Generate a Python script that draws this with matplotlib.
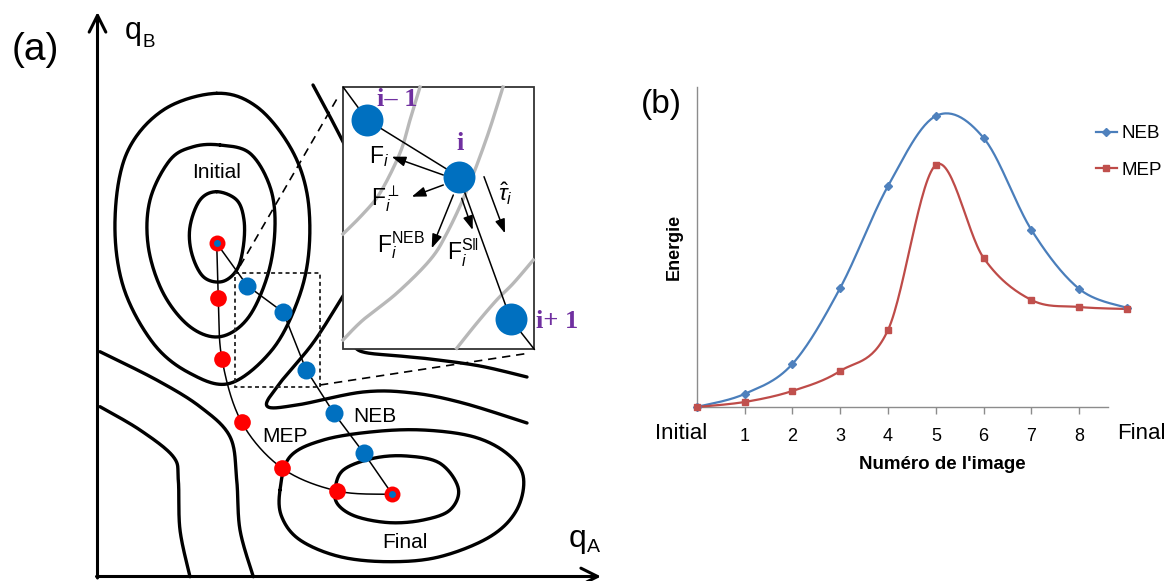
import numpy as np
import matplotlib
matplotlib.use('Agg')
import matplotlib.pyplot as plt
import matplotlib.transforms as mtransforms
from matplotlib.patches import Rectangle
from matplotlib.lines import Line2D

plt.rcParams['font.family'] = ['Liberation Sans', 'DejaVu Sans']
plt.rcParams['mathtext.fontset'] = 'custom'
plt.rcParams['mathtext.rm'] = 'Liberation Sans'
plt.rcParams['mathtext.it'] = 'Liberation Sans:italic'
plt.rcParams['mathtext.bf'] = 'Liberation Sans:bold'
NARROW = ['Liberation Sans Narrow', 'Liberation Sans', 'DejaVu Sans']

# ---- (b) energie le long du chemin ----
images = ['Initial', '1', '2', '3', '4', '5', '6', '7', '8', 'Final']
neb_energy = [0, 13, 43, 119, 221, 291, 269, 177, 118, 99]
mep_energy = [0, 5, 16, 36, 77, 242, 149, 107, 100, 98]

# ---- (a) schema, coordonnees en pixels de l'image ----
mep_nodes = [(216.7, 243.3), (218.3, 298.3), (222.0, 359.3), (241.7, 422.3),
             (282.3, 468.3), (337.3, 491.0), (392.3, 494.3)]
neb_nodes = [(216.7, 243.3), (247.3, 285.7), (283.3, 312.3), (306.0, 369.5),
             (334.0, 413.3), (364.0, 453.3), (392.3, 494.3)]

init_inner = [(216.7, 191.7), (236.7, 200), (244, 220), (243.3, 246.7), (236.7, 270),
              (221.7, 281.7), (203.3, 276.7), (191.7, 253.3), (190, 226.7), (200, 200)]
init_mid = [(220, 145), (250, 153.3), (270, 186.7), (275, 226.7), (268, 274),
            (248, 318), (220, 336.7), (190, 326.7), (163.3, 293.3), (148.3, 246.7),
            (150, 200), (170, 160), (193.3, 146.7)]
init_outer = [(216.7, 93.3), (256.7, 106.7), (290, 146.7), (307, 193.3), (309, 250),
              (298, 300), (272, 350), (230, 383.3), (190, 373.3), (153.3, 343.3),
              (123.3, 286.7), (115, 220), (126.7, 153.3), (163.3, 110)]
final_inner = [(335, 490), (343.3, 470), (373.3, 458.3), (406.7, 456), (440, 463.3),
               (458.3, 488.3), (450, 510), (423.3, 520), (390, 522.7), (356.7, 516.7),
               (338.3, 505)]
final_outer = [(280, 490), (290, 456.7), (323.3, 440), (373.3, 431.7), (423.3, 430),
               (473.3, 436.7), (506.7, 453.3), (523.3, 476.7), (516.7, 510),
               (490, 536.7), (440, 556.7), (390, 561.7), (340, 556.7), (300, 540),
               (281.7, 516.7)]
saddle_top = [(313, 85), (342, 140), (372, 205), (362, 265), (343, 296), (313, 343),
              (280, 383), (267, 406), (297, 405), (363, 392), (413, 393), (463, 403),
              (527, 423)]
under_inset = [(350, 335), (360, 351), (400, 356), (430, 359), (480, 366), (527, 377)]
left_1 = [(100, 351.7), (156.7, 380), (200, 406.7), (230, 436.7), (236.7, 480),
          (240, 530), (253.3, 576.7)]
left_2 = [(100, 406.7), (140, 430), (173.3, 456.7), (178.3, 480), (180, 530),
          (190, 576.7)]

inset_box = (343.3, 87.3, 534.3, 349.3)
inset_nodes = [(367.3, 120), (459, 176.7), (510.7, 319.3)]
gray_a = [(343, 234), (362, 215), (380, 193), (400, 153), (410, 120), (420, 87)]
gray_b = [(503, 87), (487, 137), (467, 190), (447, 233), (430, 260), (397, 293),
          (363, 320), (343, 340)]
gray_c = [(533.3, 260), (513.3, 283.3), (496.7, 300), (476.7, 323.3), (456.7, 348.3)]
force_arrows = [((443.3, 175), (391.7, 156.7)), ((443.3, 185), (411.7, 196.7)),
                ((453.3, 195), (431.7, 248.3)), ((461.7, 198.3), (472.7, 230)),
                ((484, 176.7), (505, 233.3))]


def catmull(pts, closed=False, n=30):
    P = np.asarray(pts, float)
    P = np.vstack([P[-1], P, P[0], P[1]]) if closed else np.vstack([P[0], P, P[-1]])
    t = np.linspace(0, 1, n, endpoint=False)[:, None]
    out = []
    for i in range(1, len(P) - 2):
        p0, p1, p2, p3 = P[i - 1], P[i], P[i + 1], P[i + 2]
        out.append(0.5 * (2 * p1 + (p2 - p0) * t + (2 * p0 - 5 * p1 + 4 * p2 - p3) * t ** 2
                          + (3 * p1 - p0 - 3 * p2 + p3) * t ** 3))
    out.append(P[-2][None])
    return np.vstack(out)


W, H = 1174, 581
fig = plt.figure(figsize=(W / 100, H / 100), dpi=100, facecolor='white')
px = fig.add_axes([0, 0, 1, 1])
px.set_xlim(0, W); px.set_ylim(H, 0); px.axis('off')

# contours
for pts, closed in [(init_inner, True), (init_mid, True), (init_outer, True),
                    (final_inner, True), (final_outer, True), (saddle_top, False),
                    (under_inset, False), (left_1, False), (left_2, False)]:
    xy = catmull(pts, closed)
    px.plot(xy[:, 0], xy[:, 1], color='black', lw=2.4, solid_capstyle='round', zorder=2)

# axes qA / qB
arrow = dict(arrowstyle='->,head_length=0.6,head_width=0.3', lw=2.2, color='black',
             mutation_scale=20, shrinkA=0, shrinkB=0)
px.annotate('', xy=(97.5, 12), xytext=(97.5, 578), arrowprops=arrow, zorder=3)
px.annotate('', xy=(601, 576.5), xytext=(96.5, 576.5), arrowprops=arrow, zorder=3)
px.text(125, 38.5, 'q', fontsize=22, va='baseline')
px.text(143, 46.7, 'B', fontsize=13.5, va='baseline')
px.text(569, 546.7, 'q', fontsize=23, va='baseline')
px.text(587, 552, 'A', fontsize=14, va='baseline')
px.text(35, 50, '(a)', fontsize=28, ha='center', va='center')

# cadre en pointilles + lignes vers l'encart
px.add_patch(Rectangle((235, 273), 85, 114, fill=False, lw=1.3, ls=(0, (2.2, 1.8)),
                       ec='#222222', zorder=4))
px.plot([240, 338], [266, 97], color='black', lw=1.2, ls=(0, (5, 3.5)), zorder=4)
px.plot([320, 530], [385, 353], color='black', lw=1.2, ls=(0, (5, 3.5)), zorder=4)

# chemins MEP et NEB
xy = catmull(mep_nodes)
px.plot(xy[:, 0], xy[:, 1], color='black', lw=1.1, zorder=5)
px.plot(*zip(*neb_nodes), color='black', lw=1.1, zorder=5)
px.plot(*zip(*mep_nodes[1:-1]), ls='none', marker='o', ms=12, color='#ff0000', mec='none', zorder=6)
px.plot(*zip(*neb_nodes[1:-1]), ls='none', marker='o', ms=13, color='#0070c0', mec='none', zorder=6)
for cx, cy in (mep_nodes[0], mep_nodes[-1]):
    px.plot(cx, cy, marker='o', ms=11.5, color='#ff0000', mec='none', zorder=6)
    px.plot(cx, cy, marker='o', ms=5, color='#0070c0', mec='none', zorder=7)
px.text(217, 172, 'Initial', fontsize=15, ha='center', va='center')
px.text(285, 437, 'MEP', fontsize=15, ha='center', va='center')
px.text(375, 417, 'NEB', fontsize=15, ha='center', va='center')
px.text(405, 542, 'Final', fontsize=15, ha='center', va='center')

# encart
x0, y0, x1, y1 = inset_box
box = Rectangle((x0, y0), x1 - x0, y1 - y0, fc='white', ec='#333333', lw=1.3, zorder=8)
px.add_patch(box)
for g in (gray_a, gray_b, gray_c):
    xy = catmull(g)
    px.plot(xy[:, 0], xy[:, 1], color='#b8b8b8', lw=2.4, zorder=9, clip_path=box)
chain = [(x0, y0)] + inset_nodes + [(x1, y1)]
px.plot(*zip(*chain), color='black', lw=1.1, zorder=10, clip_path=box)
px.plot(*zip(*inset_nodes), ls='none', marker='o', ms=23, color='#0070c0', mec='none', zorder=12)
for start, end in force_arrows:
    px.annotate('', xy=end, xytext=start, zorder=11,
                arrowprops=dict(arrowstyle='-|>,head_length=0.7,head_width=0.25', lw=1.1,
                                color='black', mutation_scale=12, shrinkA=0, shrinkB=0))
px.text(379, 157, r'$\mathrm{F}_i$', fontsize=16.5, ha='center', va='center', zorder=13)
px.text(386, 199, r'$\mathrm{F}_i^{\perp}$', fontsize=16.5, ha='center', va='center', zorder=13)
px.text(401, 245, r'$\mathrm{F}_i^{\mathrm{NEB}}$', fontsize=16.5, ha='center', va='center', zorder=13)
px.text(463, 253, r'$\mathrm{F}_i^{\mathrm{S}\Vert}$', fontsize=16.5, ha='center', va='center', zorder=13)
px.text(505, 194, r'$\hat{\tau}_i$', fontsize=16.5, ha='center', va='center', zorder=13)
purple = dict(fontsize=19, color='#7030a0', fontweight='bold', va='center',
              family=['Liberation Serif', 'DejaVu Serif'], zorder=13)
px.text(377, 99, 'i\u2013 1', ha='left', **purple)
px.text(460, 144, 'i', ha='center', **purple)
px.text(536, 321, 'i+ 1', ha='left', **purple)

# ---- (b) ----
ax = fig.add_axes([696.7 / W, (H - 407) / H, (1108 - 696.7) / W, (407 - 86.7) / H])
ax.set_facecolor('none')
ax.set_xlim(0, 8.6)
ax.set_ylim(0, 320.3)
x = np.arange(len(images))
series = [(neb_energy, '#4a7ebb', '#4f81bd', 'D', 4.5, 'NEB'),
          (mep_energy, '#be4b48', '#c0504d', 's', 5, 'MEP')]
handles = []
for vals, lc, mc, mk, ms, label in series:
    xy = catmull(list(zip(x, vals)))
    ax.plot(xy[:, 0], xy[:, 1], color=lc, lw=1.6, clip_on=False, zorder=3)
    ax.plot(x, vals, ls='none', marker=mk, ms=ms, color=mc, mec=mc, clip_on=False, zorder=4)
    handles.append(Line2D([0], [0], color=lc, lw=1.6, marker=mk, ms=ms, mfc=mc, mec=mc, label=label))
for s in ('top', 'right'):
    ax.spines[s].set_visible(False)
for s in ('left', 'bottom'):
    ax.spines[s].set_color('#8c8c8c')
    ax.spines[s].set_linewidth(1)
ax.set_yticks([])
ax.set_xticks(x[1:9])
ax.set_xticklabels(images[1:9], family=NARROW, fontsize=13)
ax.tick_params(axis='x', length=5, width=1, color='#8c8c8c', pad=10)
tr = mtransforms.blended_transform_factory(ax.transData, ax.transAxes)
ax.text(-0.33, -0.084, images[0], transform=tr, ha='center', va='center', fontsize=16, family=NARROW)
ax.text(9.3, -0.084, images[-1], transform=tr, ha='center', va='center', fontsize=16, family=NARROW)
ax.set_xlabel("Numéro de l'image", fontsize=13.5, fontweight='bold', family=NARROW)
ax.xaxis.set_label_coords(0.596, -0.153)
ax.set_ylabel('Energie', fontsize=13, fontweight='bold', labelpad=10)
ax.legend(handles=handles, loc='upper left', bbox_to_anchor=(1096 / W, 1 - 125 / H),
          bbox_transform=fig.transFigure, frameon=False, borderpad=0, borderaxespad=0,
          handlelength=1.1, handletextpad=0.25, labelspacing=1.05,
          prop={'family': NARROW, 'size': 13.5})
px.text(661, 104, '(b)', fontsize=24, ha='center', va='center')

fig.savefig('out.png', dpi=100, facecolor='white')
